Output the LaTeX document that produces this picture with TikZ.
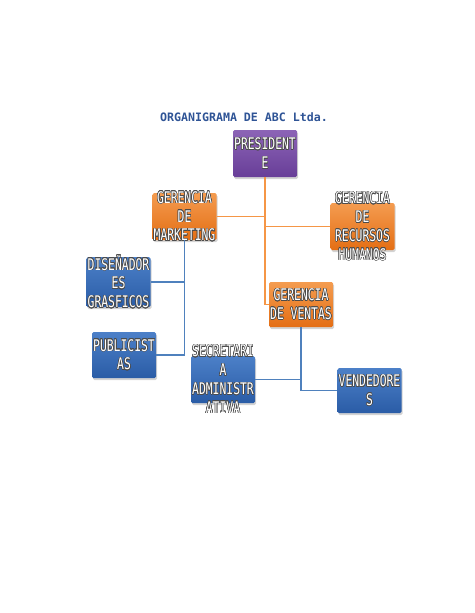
\documentclass[tikz,border=0pt]{standalone}
\usepackage{fontspec}
\usepackage{tikz}
\usepackage{contour}
\usetikzlibrary{shadows}
\newfontfamily\boxfont[FakeStretch=0.71]{DejaVu Sans Mono}
\newfontfamily\titlefont{DejaVu Sans Mono}
\contourlength{0.55pt}
\newcommand{\ctx}[1]{\contour{black!70}{#1}}
\definecolor{titleblue}{RGB}{47,84,150}
\definecolor{lineorange}{RGB}{245,150,70}
\definecolor{lineblue}{RGB}{79,129,189}
\tikzset{
    cargo/.style={shape=rectangle, rounded corners=1.5pt, minimum width=64pt, minimum height=47pt, inner sep=0pt,
        drop shadow={shadow xshift=1pt, shadow yshift=-2pt, opacity=0.35}},
    purplebox/.style={cargo, top color={rgb,255:red,140;green,100;blue,182}, bottom color={rgb,255:red,104;green,62;blue,152}},
    orangebox/.style={cargo, top color={rgb,255:red,244;green,156;blue,80}, bottom color={rgb,255:red,228;green,110;blue,20}},
    bluebox/.style={cargo, top color={rgb,255:red,76;green,128;blue,200}, bottom color={rgb,255:red,42;green,92;blue,166}},
    boxtext/.style={text=white, align=center, font=\boxfont\fontsize{16}{18.8}\selectfont},
    orangeline/.style={draw=lineorange, line width=1.2pt},
    blueline/.style={draw=lineblue, line width=1.2pt}}

\begin{document}
\begin{tikzpicture}[x=1pt, y=-1pt]
    \useasboundingbox (0,0) rectangle (474,613);

    \node[text=titleblue, font=\titlefont\bfseries\fontsize{11.6}{14}\selectfont] (title) at (244,117) {ORGANIGRAMA DE ABC Ltda.};

    % cajas
    \node[purplebox] (pres) at (265,153.5) {};
    \node[orangebox] (mkt) at (184.5,216.5) {};
    \node[orangebox] (rrhh) at (362.5,226.5) {};
    \node[orangebox, minimum height=45pt] (ventas) at (301,304.5) {};
    \node[bluebox, minimum height=50pt] (disen) at (118.5,282) {};
    \node[bluebox, minimum height=46pt] (publi) at (124,355) {};
    \node[bluebox] (secre) at (223,379.5) {};
    \node[bluebox, minimum height=45pt] (vend) at (369.5,390.5) {};

    % textos
    \node[boxtext] at (pres) {\ctx{PRESIDENT}\\\ctx{E}};
    \node[boxtext] at (mkt) {\ctx{GERENCIA}\\\ctx{DE}\\\ctx{MARKETING}};
    \node[boxtext] at (rrhh) {\ctx{GERENCIA}\\\ctx{DE}\\\ctx{RECURSOS}\\\ctx{HUMANOS}};
    \node[boxtext] at (ventas) {\ctx{GERENCIA}\\\ctx{DE VENTAS}};
    \node[boxtext] at (disen) {\ctx{DISEÑADOR}\\\ctx{ES}\\\ctx{GRASFICOS}};
    \node[boxtext] at (publi) {\ctx{PUBLICIST}\\\ctx{AS}};
    \node[boxtext] at (secre) {\ctx{SECRETARI}\\\ctx{A}\\\ctx{ADMINISTR}\\\ctx{ATIVA}};
    \node[boxtext] at (vend) {\ctx{VENDEDORE}\\\ctx{S}};

    % conectores
    \draw[orangeline] (pres.south) |- (ventas.west);
    \draw[orangeline] (mkt.east) -- (mkt.east -| pres.south);
    \draw[orangeline] (rrhh.west) -- (rrhh.west -| pres.south);
    \draw[blueline] (mkt.south) |- (publi.east);
    \draw[blueline] (disen.east) -- (disen.east -| mkt.south);
    \draw[blueline] (ventas.south) |- (vend.west);
    \draw[blueline] (secre.east) -- (secre.east -| ventas.south);

\end{tikzpicture}
\end{document}
